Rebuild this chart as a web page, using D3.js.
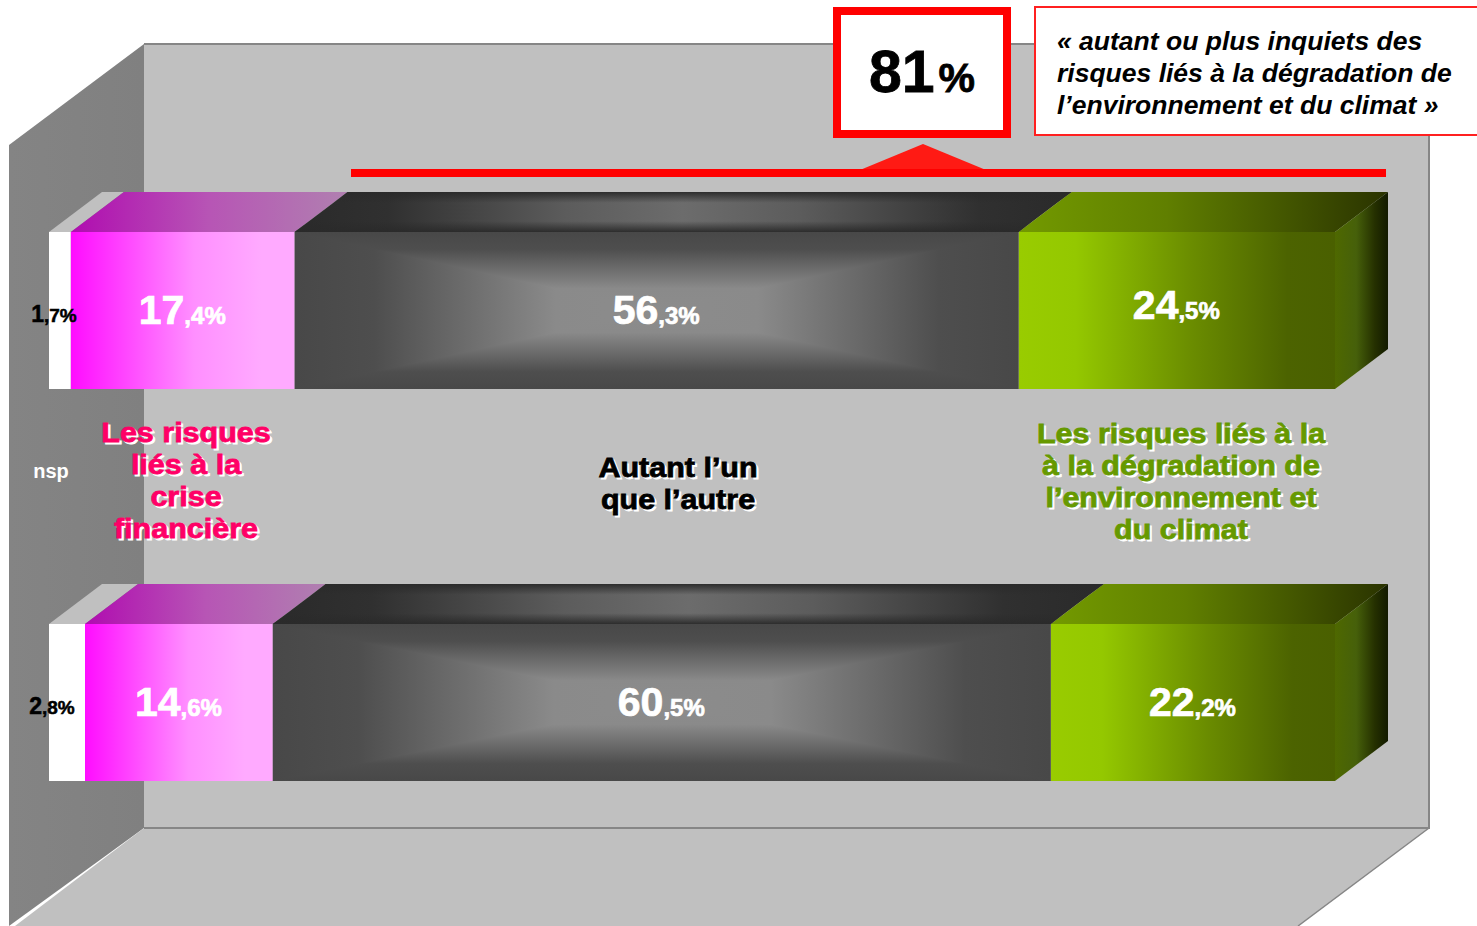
<!DOCTYPE html>
<html>
<head>
<meta charset="utf-8">
<script src="https://d3js.org/d3.v7.min.js"></script>
<style>
  html, body { margin: 0; padding: 0; background: #fff; }
  svg { display: block; }
  text { font-family: "Liberation Sans", Arial, sans-serif; font-weight: bold; }
</style>
</head>
<body>
<script>
const rows = ["vague1", "vague2"];
const keys = ["nsp", "crise", "autant", "climat"];
const nsp = [1.7, 2.8];
const crise = [17.4, 14.6];
const autant = [56.3, 60.5];
const climat = [24.5, 22.2];

const labelCrise = ["Les risques", "liés à la", "crise", "financière"];
const labelAutant = ["Autant l’un", "que l’autre"];
const labelClimat = ["Les risques liés à la", "à la dégradation de", "l’environnement et", "du climat"];
const calloutTotal = "81";
const calloutText = ["« autant ou plus inquiets des", "risques liés à la dégradation de", "l’environnement et du climat »"];

const width = 1477, height = 926;
const depthX = 53, depthY = 40;

const table = rows.map((r, i) => ({ row: r, nsp: nsp[i], crise: crise[i], autant: autant[i], climat: climat[i] }));
const series = d3.stack().keys(keys)(table);

const x = d3.scaleLinear().domain([0, 100]).range([49, 1335]);
const y = d3.scaleBand().domain(rows).range([232, 781]).paddingInner(235 / 392).paddingOuter(0);

const svg = d3.select("body").append("svg").attr("width", width).attr("height", height);
const defs = svg.append("defs");

function gradient(id, stops, vertical) {
  const g = defs.append("linearGradient").attr("id", id)
    .attr("x1", 0).attr("y1", 0)
    .attr("x2", vertical ? 0 : 1).attr("y2", vertical ? 1 : 0);
  stops.forEach(s => {
    g.append("stop").attr("offset", s[0]).attr("stop-color", s[1]).attr("stop-opacity", s[2] === undefined ? 1 : s[2]);
  });
}

gradient("pinkFront", [[0, "#ff0cff"], [0.55, "#ff8fff"], [0.85, "#ffaaff"], [1, "#ffaaff"]]);
gradient("pinkTop", [[0, "#b00cb0"], [0.5, "#b755b5"], [1, "#b080b0"]]);
gradient("greenFront", [[0, "#99cc00"], [0.18, "#94c800"], [0.55, "#6a8c00"], [0.85, "#4c6300"], [1, "#4a6000"]]);
gradient("greenTop", [[0, "#739a00"], [0.4, "#607f00"], [1, "#2a3300"]]);
gradient("greenSide", [[0, "#4e6800"], [0.4, "#46600a"], [0.75, "#253000"], [1, "#121a00"]]);
gradient("darkLeft", [[0, "#484848"], [0.22, "#4e4e4e"], [0.72, "#8a8a8a"], [1, "#8c8c8c"]]);
gradient("darkRight", [[0, "#8c8c8c"], [0.28, "#8a8a8a"], [0.78, "#4e4e4e"], [1, "#484848"]]);
gradient("darkUp", [[0, "#484848"], [0.22, "#4e4e4e"], [0.72, "#8a8a8a"], [1, "#8c8c8c"]], true);
gradient("darkDown", [[0, "#8c8c8c"], [0.28, "#8a8a8a"], [0.78, "#4e4e4e"], [1, "#484848"]], true);
gradient("darkTop", [[0, "#2a2a2a"], [0.12, "#303030"], [0.35, "#5c5c5c"], [0.5, "#6c6c6c"], [0.65, "#5c5c5c"], [0.88, "#303030"], [1, "#2a2a2a"]]);
gradient("darkTopBands", [[0, "#2a2a2a", 0.95], [0.27, "#2a2a2a", 0], [0.73, "#2a2a2a", 0], [1, "#2a2a2a", 0.95]], true);
gradient("wallLeft", [[0, "#848484"], [1, "#808080"]]);

const topFill = { nsp: "#c0c0c0", crise: "url(#pinkTop)", autant: "url(#darkTop)", climat: "url(#greenTop)" };
const frontFill = { nsp: "#ffffff", crise: "url(#pinkFront)", climat: "url(#greenFront)" };

// room behind the bars
const line = d3.line();
const room = svg.append("g");
room.append("path").attr("d", line([[9, 145], [144, 44], [144, 828], [9, 926]]) + "Z").attr("fill", "url(#wallLeft)");
room.append("path").attr("d", line([[144, 828], [1429, 828], [1298, 926], [15, 926]]) + "Z").attr("fill", "#c0c0c0");
room.append("rect").attr("x", 144).attr("y", 44).attr("width", 1285).attr("height", 784).attr("fill", "#c0c0c0");
room.append("path").attr("d", line([[144, 44], [1429, 44], [1429, 828], [144, 828]]))
  .attr("fill", "none").attr("stroke", "#868686").attr("stroke-width", 2);
room.append("path").attr("d", line([[1429, 828], [1298, 926]]))
  .attr("fill", "none").attr("stroke", "#868686").attr("stroke-width", 1.5);

// flatten the stack to one record per segment
const segments = series.flatMap((s, k) => s.map((d, i) => ({
  key: s.key,
  row: rows[i],
  value: d.data[s.key],
  x0: x(d[0]),
  x1: k === keys.length - 1 ? x(100) : x(d[1])
})));

const bars = svg.append("g");

bars.selectAll("path.top").data(segments).join("path")
  .attr("class", "top")
  .attr("d", d => {
    const t = y(d.row);
    return line([[d.x0, t], [d.x0 + depthX, t - depthY], [d.x1 + depthX, t - depthY], [d.x1, t]]) + "Z";
  })
  .attr("fill", d => topFill[d.key]);

bars.selectAll("path.bands").data(segments.filter(d => d.key === "autant")).join("path")
  .attr("class", "bands")
  .attr("d", d => {
    const t = y(d.row);
    return line([[d.x0, t], [d.x0 + depthX, t - depthY], [d.x1 + depthX, t - depthY], [d.x1, t]]) + "Z";
  })
  .attr("fill", "url(#darkTopBands)");

bars.selectAll("rect.front").data(segments.filter(d => d.key !== "autant")).join("rect")
  .attr("class", "front")
  .attr("x", d => d.x0)
  .attr("y", d => y(d.row))
  .attr("width", d => d.x1 - d.x0)
  .attr("height", y.bandwidth())
  .attr("fill", d => frontFill[d.key]);

// the grey block has a four sided gradient running to its centre:
// left and right halves first, then the top and bottom triangles over them
const dark = bars.selectAll("g.dark").data(segments.filter(d => d.key === "autant")).join("g").attr("class", "dark");
dark.append("rect")
  .attr("x", d => d.x0).attr("y", d => y(d.row))
  .attr("width", d => (d.x1 - d.x0) / 2 + 0.5).attr("height", y.bandwidth()).attr("fill", "url(#darkLeft)");
dark.append("rect")
  .attr("x", d => (d.x0 + d.x1) / 2).attr("y", d => y(d.row))
  .attr("width", d => (d.x1 - d.x0) / 2).attr("height", y.bandwidth()).attr("fill", "url(#darkRight)");
[["url(#darkUp)", 0], ["url(#darkDown)", 1]].forEach(f => {
  dark.append("path")
    .attr("d", d => {
      const h = y.bandwidth(), t = y(d.row);
      return line([[d.x0, t + f[1] * h], [d.x1, t + f[1] * h], [(d.x0 + d.x1) / 2, t + h / 2]]) + "Z";
    })
    .attr("fill", f[0]);
});

bars.selectAll("path.side").data(segments.filter(d => d.key === "climat")).join("path")
  .attr("class", "side")
  .attr("d", d => {
    const t = y(d.row), b = t + y.bandwidth();
    return line([[d.x1, t], [d.x1 + depthX, t - depthY], [d.x1 + depthX, b - depthY], [d.x1, b]]) + "Z";
  })
  .attr("fill", "url(#greenSide)");

// value labels: integer part large, decimals and % small
function valueLabel(sel, big, small) {
  sel.append("tspan").attr("font-size", big).text(d => d3.format(".1f")(d.value).split(".")[0]);
  sel.append("tspan").attr("font-size", small).text(d => "," + d3.format(".1f")(d.value).split(".")[1] + "%");
}

const values = svg.append("g");
values.selectAll("text.value").data(segments.filter(d => d.key !== "nsp")).join("text")
  .attr("class", "value")
  .attr("x", d => (d.x0 + d.x1) / 2 - 0.5)
  .attr("y", d => y(d.row) + (d.key === "climat" && d.row === rows[0] ? 87 : 92))
  .attr("text-anchor", "middle")
  .attr("fill", "#fff")
  .attr("stroke", "#fff")
  .attr("stroke-width", 0.7)
  .call(valueLabel, 41, 24);

values.selectAll("text.nsp").data(segments.filter(d => d.key === "nsp")).join("text")
  .attr("class", "nsp")
  .attr("x", (d, i) => 54 - i * 2)
  .attr("y", d => y(d.row) + 90)
  .attr("text-anchor", "middle")
  .attr("fill", "#000")
  .attr("stroke", "#000")
  .attr("stroke-width", 0.5)
  .call(valueLabel, 23, 19);

svg.append("text").attr("x", 51).attr("y", 478).attr("text-anchor", "middle")
  .attr("font-size", 20).attr("fill", "#fff").text("nsp");

// category labels with their white offset shadow, stretched a little to the wider source face
function category(lines, cx, firstY, color) {
  const g = svg.append("g").attr("font-size", 28).attr("text-anchor", "middle")
    .attr("transform", "translate(" + cx + ",0) scale(1.09,1)");
  [["#fff", 2], [color, 0]].forEach(p => {
    g.append("g").selectAll("text").data(lines).join("text")
      .attr("x", p[1])
      .attr("y", (d, i) => firstY + i * 32 + p[1])
      .attr("fill", p[0])
      .attr("stroke", p[0])
      .attr("stroke-width", 0.8)
      .text(d => d);
  });
}
category(labelCrise, 186, 442, "#ff0066");
category(labelAutant, 678, 477, "#000000");
category(labelClimat, 1181, 443, "#669900");

// 81% bracket
const note = svg.append("g");
note.append("path").attr("d", line([[860, 170], [923, 144], [986, 170]]) + "Z")
  .attr("fill", "#ff1a14");
note.append("rect").attr("x", 351).attr("y", 169).attr("width", 1035).attr("height", 8).attr("fill", "#ff0000");
note.append("rect").attr("x", 837).attr("y", 11).attr("width", 170).attr("height", 123)
  .attr("fill", "#fff").attr("stroke", "#ff0000").attr("stroke-width", 8);
const total = note.append("text").attr("x", 922).attr("y", 92).attr("text-anchor", "middle")
  .attr("fill", "#000").attr("stroke", "#000").attr("stroke-width", 0.8);
total.append("tspan").attr("font-size", 59).text(calloutTotal);
total.append("tspan").attr("font-size", 41).attr("dx", 4).text("%");

note.append("rect").attr("x", 1035).attr("y", 7).attr("width", 460).attr("height", 128)
  .attr("fill", "#fff").attr("stroke", "#ff2020").attr("stroke-width", 2);
note.append("g").selectAll("text").data(calloutText).join("text")
  .attr("x", 1057)
  .attr("y", (d, i) => 50 + i * 32)
  .attr("font-size", 26.5)
  .attr("font-style", "italic")
  .attr("fill", "#000")
  .text(d => d);
</script>
</body>
</html>
